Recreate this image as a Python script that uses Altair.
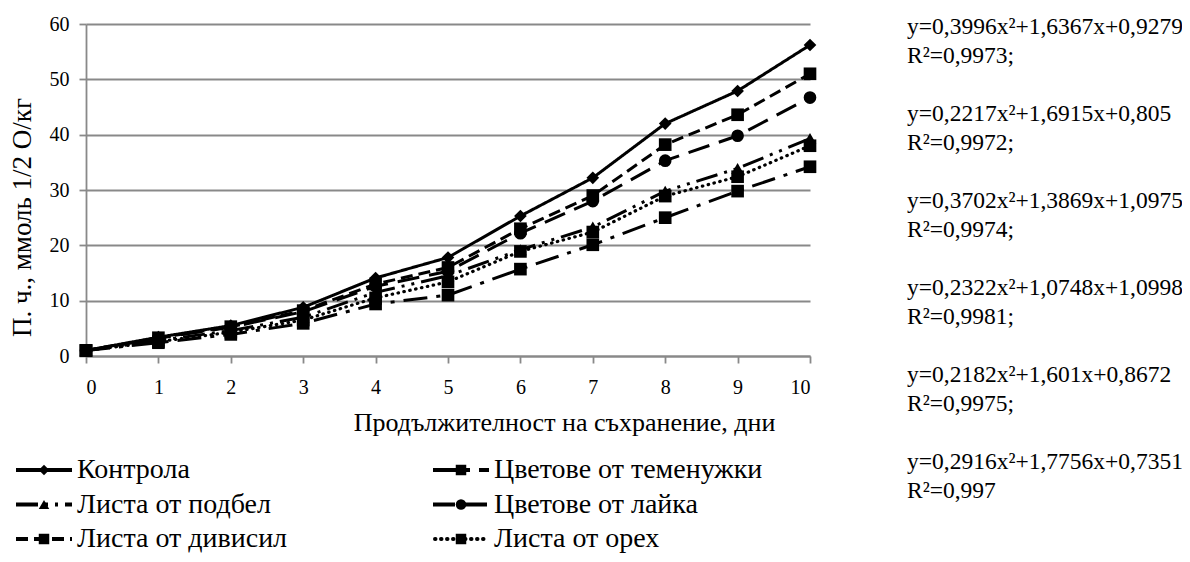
import altair as alt
import pandas as pd

days = list(range(11))
series_names = ["Контрола", "Цветове от теменужки", "Листа от подбел",
                "Цветове от лайка", "Листа от дивисил", "Листа от орех"]
kontrola   = [1.0, 3.4, 5.5, 8.8, 14.1, 17.8, 25.3, 32.2, 42.0, 47.9, 56.2]
temenuzhki = [1.0, 2.4, 3.9, 5.9, 9.4, 11.0, 15.7, 20.1, 25.0, 29.8, 34.2]
podbel     = [1.0, 2.8, 4.6, 7.0, 11.5, 14.5, 19.2, 23.3, 29.8, 33.9, 39.3]
layka      = [1.0, 3.2, 5.2, 8.0, 12.6, 15.3, 22.2, 28.0, 35.3, 39.8, 46.7]
divisil    = [1.0, 3.3, 5.3, 8.2, 13.0, 16.0, 23.0, 29.0, 38.2, 43.6, 51.0]
oreh       = [1.0, 2.6, 4.3, 6.5, 10.5, 13.4, 18.9, 22.4, 28.9, 32.4, 38.0]
y_ticks = [0, 10, 20, 30, 40, 50, 60]
legend_col = [0, 1, 0, 1, 0, 1]
legend_row = [0, 0, 1, 1, 2, 2]
equations = [
    "y=0,3996x²+1,6367x+0,9279", "R²=0,9973;",
    "y=0,2217x²+1,6915x+0,805", "R²=0,9972;",
    "y=0,3702x²+1,3869x+1,0975", "R²=0,9974;",
    "y=0,2322x²+1,0748x+1,0998", "R²=0,9981;",
    "y=0,2182x²+1,601x+0,8672", "\u00a0R²=0,9975;",
    "y=0,2916x²+1,7756x+0,7351", "R²=0,997",
]

FONT = "'Liberation Serif', 'DejaVu Serif', serif"
GRAY = "#898989"
W, H = 724, 332
dashes = [[1, 0], [24, 9, 4, 9], [22, 7, 3, 7, 3, 7], [22, 10], [12, 6], [0.5, 5.5]]
shapes = ["diamond", "square", "triangle-up", "circle", "square", "square"]
DOTTED = "Листа от орех"

all_values = [kontrola, temenuzhki, podbel, layka, divisil, oreh]
rows = []
for name, vals in zip(series_names, all_values):
    for d, v in zip(days, vals):
        rows.append({"series": name, "day": d, "value": v})
df = pd.DataFrame(rows)

dash_scale = alt.Scale(domain=series_names, range=dashes)
shape_scale = alt.Scale(domain=series_names, range=shapes)

x_enc = alt.X("day:Q", scale=alt.Scale(domain=[0, 10], nice=False),
              axis=alt.Axis(values=days, title="Продължителност на съхранение, дни",
                            grid=False, labelFontSize=20, titleFontSize=26,
                            titleX=478, titleY=66, titleAlign="center",
                            titleBaseline="middle", titleFontWeight="normal",
                            labelPadding=14, tickSize=7))
y_enc = alt.Y("value:Q", scale=alt.Scale(domain=[0, 60], nice=False),
              axis=alt.Axis(values=y_ticks, title="П. ч., ммоль 1/2 О/кг",
                            labelFontSize=20, titleFontSize=27, titleFontWeight="normal",
                            tickSize=7, labelPadding=10, titleX=-64, titleY=193,
                            titleAngle=270, titleBaseline="middle", titleAlign="center"))

base = alt.Chart(df)
lines_solid = base.transform_filter(alt.datum.series != DOTTED).mark_line(
    color="black", strokeWidth=3, strokeCap="butt").encode(
    x=x_enc, y=y_enc,
    strokeDash=alt.StrokeDash("series:N", scale=dash_scale, legend=None),
    detail="series:N",
)
lines_dot = base.transform_filter(alt.datum.series == DOTTED).mark_line(
    color="black", strokeWidth=3.2, strokeCap="round").encode(
    x=x_enc, y=y_enc,
    strokeDash=alt.StrokeDash("series:N", scale=dash_scale, legend=None),
)
points = base.mark_point(filled=True, color="black", opacity=1, size=160).encode(
    x=x_enc, y=y_enc,
    shape=alt.Shape("series:N", scale=shape_scale, legend=None),
)
data_layer = alt.layer(lines_solid, lines_dot, points)

# legend drawn below the plot area
leg = pd.DataFrame({"series": series_names, "col": legend_col, "row": legend_row})
COL_PX = 417
ROW_PX = 34.5
LX0 = -70       # left of the legend relative to plot left
LY0 = 446       # first legend row relative to plot top
lx = alt.X("col:Q", scale=alt.Scale(domain=[0, W / COL_PX], nice=False, zero=False), axis=None)
ly = alt.Y("row:Q", scale=alt.Scale(domain=[0, H / ROW_PX], nice=False, zero=False, reverse=True), axis=None)
lb = alt.Chart(leg)
leg_rule = lb.transform_filter(alt.datum.series != DOTTED).mark_rule(
    color="black", strokeWidth=4, strokeCap="butt", xOffset=LX0, x2Offset=LX0 + 56, yOffset=LY0).encode(
    x=lx, x2="col:Q", y=ly,
    strokeDash=alt.StrokeDash("series:N", scale=dash_scale, legend=None),
)
leg_rule_dot = lb.transform_filter(alt.datum.series == DOTTED).mark_rule(
    color="black", strokeWidth=4, strokeCap="round", xOffset=LX0 + 2, x2Offset=LX0 + 56, yOffset=LY0).encode(
    x=lx, x2="col:Q", y=ly,
    strokeDash=alt.StrokeDash("series:N", scale=dash_scale, legend=None),
)
leg_pt = lb.mark_point(filled=True, color="black", opacity=1, size=110,
                       xOffset=LX0 + 28, yOffset=LY0).encode(
    x=lx, y=ly,
    shape=alt.Shape("series:N", scale=shape_scale, legend=None),
)
leg_txt = lb.mark_text(align="left", baseline="middle", xOffset=LX0 + 61, yOffset=LY0,
                       fontSize=28, font=FONT, color="black").encode(
    x=lx, y=ly, text="series:N",
)
legend_layer = alt.layer(leg_rule, leg_rule_dot, leg_pt, leg_txt)

# trend-line equations to the right of the plot
eq = pd.DataFrame({"text": equations, "idx": list(range(len(equations)))})
EQ_ROW_PX = 29
eq_layer = alt.Chart(eq).transform_calculate(
    row="floor(datum.idx / 2) * 3 + (datum.idx % 2)"
).mark_text(align="left", baseline="middle", fontSize=23.5, font=FONT, color="black",
            yOffset=3).encode(
    x=alt.value(821),
    y=alt.Y("row:Q", scale=alt.Scale(domain=[0, H / EQ_ROW_PX], nice=False, zero=False, reverse=True),
            axis=None),
    text="text:N",
)

chart = alt.layer(data_layer, legend_layer, eq_layer).resolve_scale(
    x="independent", y="independent"
).properties(
    width=W, height=H,
    autosize=alt.AutoSizeParams(type="none"),
    padding={"left": 78, "top": 16, "right": 372, "bottom": 198},
).configure(font=FONT).configure_view(stroke=None).configure_axis(
    gridColor=GRAY, gridWidth=1.8, domainColor=GRAY, domainWidth=1.8,
    tickColor=GRAY, tickWidth=1.8, labelColor="black", titleColor="black",
    labelFont=FONT, titleFont=FONT,
)

chart.save("out.html", embed_options={"renderer": "svg", "actions": False})
